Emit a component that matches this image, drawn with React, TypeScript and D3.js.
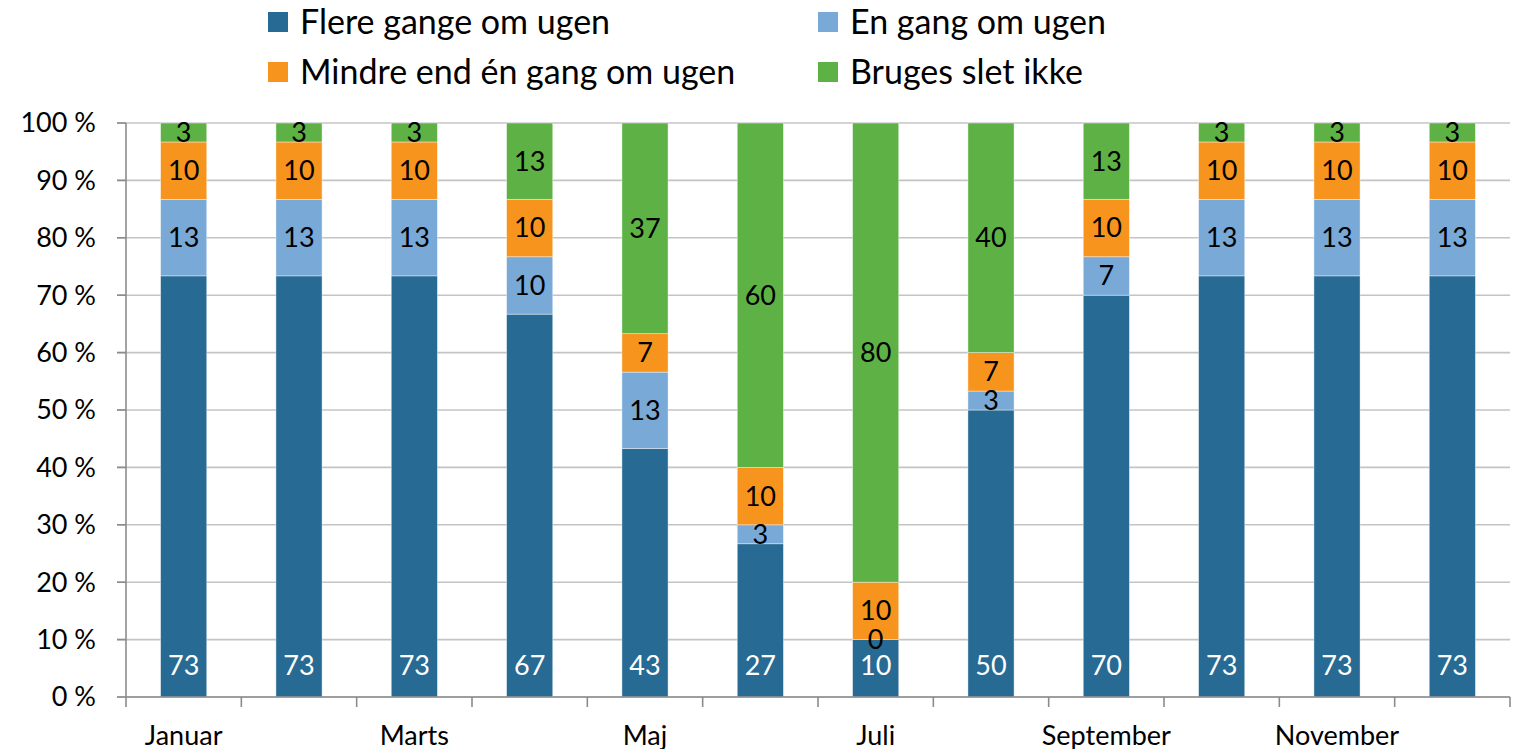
import * as d3 from 'd3';

const months = ['Januar', 'Februar', 'Marts', 'April', 'Maj', 'Juni', 'Juli', 'August', 'September', 'Oktober', 'November', 'December'];
const seriesNames = ['Flere gange om ugen', 'En gang om ugen', 'Mindre end én gang om ugen', 'Bruges slet ikke'];
const flere = [73.3, 73.3, 73.3, 66.7, 43.3, 26.7, 10, 50, 70, 73.3, 73.3, 73.3];
const enGang = [13.3, 13.3, 13.3, 10, 13.3, 3.3, 0, 3.3, 6.7, 13.3, 13.3, 13.3];
const mindre = [10, 10, 10, 10, 6.7, 10, 10, 6.7, 10, 10, 10, 10];
const bruges = [3.3, 3.3, 3.3, 13.3, 36.7, 60, 80, 40, 13.3, 3.3, 3.3, 3.3];
const yTicks = [0, 0.1, 0.2, 0.3, 0.4, 0.5, 0.6, 0.7, 0.8, 0.9, 1];
const colors = ['#276a93', '#78a9d7', '#f7941d', '#5eb245'];

const W = 1516;
const H = 749;
const FONT = 'Lato, "Open Sans", sans-serif';

const App = () => {
  const margin = { top: 123, right: 6, bottom: 52, left: 126 };

  const table = months.map((m, i) => ({ month: m, s0: flere[i], s1: enGang[i], s2: mindre[i], s3: bruges[i] }));
  const keys = ['s0', 's1', 's2', 's3'];
  const stacked = d3.stack().keys(keys).offset(d3.stackOffsetExpand)(table);

  const x = d3
    .scaleBand()
    .domain(months)
    .range([margin.left, W - margin.right])
    .paddingInner(0.6)
    .paddingOuter(0.3);

  const y = d3.scaleLinear().domain([0, 1]).range([H - margin.bottom, margin.top]);

  const step = x.step();
  const x0 = margin.left;
  const x1 = W - margin.right;
  const yBase = y(0);

  const legend = [
    { name: seriesNames[0], color: colors[0], lx: 268, ly: 22 },
    { name: seriesNames[1], color: colors[1], lx: 818, ly: 22 },
    { name: seriesNames[2], color: colors[2], lx: 268, ly: 72 },
    { name: seriesNames[3], color: colors[3], lx: 818, ly: 72 },
  ];

  return (
    <svg width={W} height={H} style={{ position: 'absolute', left: 0, top: 0 }} fontFamily={FONT}>
      {/* gridlines */}
      {yTicks.map((t) => (
        <g key={t}>
          <line x1={x0 - 9} x2={x1} y1={y(t)} y2={y(t)} stroke="#c4c4c4" strokeWidth={1.6} />
          <line x1={x0 - 9} x2={x0} y1={y(t)} y2={y(t)} stroke="#8c8c8c" strokeWidth={1.6} />
          <text x={96} y={y(t)} dy="0.35em" textAnchor="end" fontSize={27} fill="#000">
            {`${Math.round(t * 100)} %`}
          </text>
        </g>
      ))}

      {/* bars */}
      {stacked.map((layer, si) => (
        <g key={layer.key} fill={colors[si]}>
          {layer.map((d, i) => (
            <rect
              key={i}
              x={x(months[i])}
              y={y(d[1])}
              width={x.bandwidth()}
              height={Math.max(0, y(d[0]) - y(d[1]))}
              stroke="#ffffff"
              strokeOpacity={0.5}
              strokeWidth={0.8}
            />
          ))}
        </g>
      ))}

      {/* data labels */}
      {stacked.map((layer, si) =>
        layer.map((d, i) => {
          const raw = [flere, enGang, mindre, bruges][si][i];
          const cx = x(months[i]) + x.bandwidth() / 2;
          const cy = si === 0 ? yBase - 31 : (y(d[0]) + y(d[1])) / 2;
          return (
            <text
              key={`${si}-${i}`}
              x={cx}
              y={cy}
              dy="0.35em"
              textAnchor="middle"
              fontSize={27}
              fill={si === 0 ? '#ffffff' : '#000000'}
            >
              {Math.round(raw)}
            </text>
          );
        }),
      )}

      {/* axes */}
      <line x1={x0} x2={x0} y1={y(1)} y2={yBase} stroke="#8c8c8c" strokeWidth={1.6} />
      <line x1={x0} x2={x1} y1={yBase} y2={yBase} stroke="#8c8c8c" strokeWidth={1.6} />
      {d3.range(months.length + 1).map((i) => (
        <line key={i} x1={x0 + i * step} x2={x0 + i * step} y1={yBase} y2={yBase + 10} stroke="#8c8c8c" strokeWidth={1.6} />
      ))}
      {months.map((m, i) =>
        i % 2 === 0 ? (
          <text key={m} x={x(m) + x.bandwidth() / 2} y={736} dy="0.35em" textAnchor="middle" fontSize={27} fill="#000">
            {m}
          </text>
        ) : null,
      )}

      {/* legend */}
      {legend.map((l) => (
        <g key={l.name}>
          <rect x={l.lx} y={l.ly - 10} width={20} height={20} fill={l.color} />
          <text x={l.lx + 32} y={l.ly} dy="0.35em" fontSize={34} fill="#000">
            {l.name}
          </text>
        </g>
      ))}
    </svg>
  );
};

export default App;
